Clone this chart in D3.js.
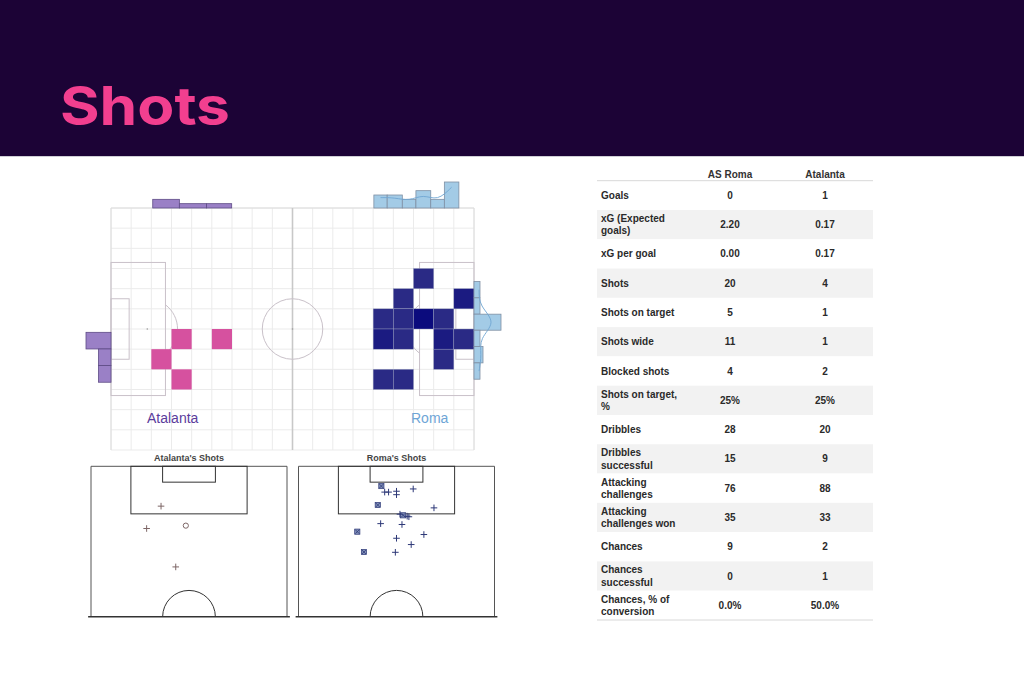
<!DOCTYPE html>
<html>
<head>
<meta charset="utf-8">
<script src="https://cdn.jsdelivr.net/npm/d3@7"></script>
<style>
body { margin: 0; background: #fff; }
svg { display: block; }
</style>
</head>
<body>
<svg id="chart"></svg>
<script>
// ------------------------------------------------ DATA ------------------------------------------------

var teamNames = ["AS Roma", "Atalanta"];

var statLabels = ["Goals", "xG (Expected\ngoals)", "xG per goal", "Shots", "Shots on target", "Shots wide",
    "Blocked shots", "Shots on target,\n%", "Dribbles", "Dribbles\nsuccessful", "Attacking\nchallenges",
    "Attacking\nchallenges won", "Chances", "Chances\nsuccessful", "Chances, % of\nconversion"];
var romaStats = ["0", "2.20", "0.00", "20", "5", "11", "4", "25%", "28", "15", "76", "35", "9", "0", "0.0%"];
var atalantaStats = ["1", "0.17", "0.17", "4", "1", "1", "2", "25%", "20", "9", "88", "33", "2", "1", "50.0%"];

// heatmap cells on the 18 x 12 grid: [column, row, shots]
var atalantaCells = [[3, 6, 1], [5, 6, 1], [2, 7, 1], [3, 8, 1]];
var romaCells = [[15, 3, 1], [14, 4, 1], [17, 4, 2], [13, 5, 1], [14, 5, 1], [15, 5, 3], [16, 5, 1],
    [13, 6, 2], [14, 6, 1], [16, 6, 2], [17, 6, 1], [16, 7, 1], [13, 8, 1], [14, 8, 1]];

// marginal histograms (bin edges in pitch units 120 x 80)
var atalantaTopEdges = [13.8, 22.6, 31.6, 39.9];
var atalantaTopCounts = [2, 1, 1];
var romaTopEdges = [86.9, 91.3, 96.3, 100.8, 105.7, 110.2, 115.0];
var romaTopCounts = [3, 3, 2, 4, 2, 6];
var atalantaSideEdges = [41.1, 46.6, 52.1, 57.6];
var atalantaSideCounts = [2, 1, 1];
var romaSideEdges = [24.3, 29.7, 35.1, 40.4, 45.8, 51.2, 56.6];
var romaSideCounts = [2, 2, 9, 2, 3, 2];

// shot maps: x across the 68 m width, y metres out from the goal line
var atalantaShotX = [24.3, 19.3, 32.9, 29.4];
var atalantaShotY = [13.9, 21.7, 20.7, 35.1];
var atalantaShotType = ["miss", "miss", "goal", "miss"];

var romaShotX = [28.75, 27.5, 20.4, 22.7, 36.3, 29.9, 31.25, 34.0, 34.0, 39.8, 47.0, 37.7, 35.2, 38.3, 28.5,
    35.9, 43.5, 34.0, 39.1, 33.6];
var romaShotY = [6.9, 13.5, 22.8, 29.9, 17.1, 9.0, 9.0, 8.7, 9.9, 7.9, 14.5, 17.4, 16.7, 17.6, 20.0,
    20.3, 23.8, 25.1, 27.3, 30.0];
var romaShotType = ["saved", "saved", "saved", "saved", "saved", "miss", "miss", "miss", "miss", "miss", "miss",
    "miss", "miss", "miss", "miss", "miss", "miss", "miss", "miss", "miss"];

// ------------------------------------------------ SETUP ------------------------------------------------

var width = 1024, height = 683;
var svg = d3.select('#chart')
    .attr("width", width)
    .attr("height", height);

// header band with title
svg.append("rect")
    .attr("width", width)
    .attr("height", 156)
    .attr("fill", "#1c0336");

svg.append("line")
    .attr("x1", 0).attr("x2", width)
    .attr("y1", 156.5).attr("y2", 156.5)
    .attr("stroke", "#cfcfd6");

svg.append("text")
    .attr("x", 60)
    .attr("y", 125)
    .attr("font-family", "Inter, 'Noto Sans', sans-serif")
    .attr("font-weight", 700)
    .attr("font-size", 53)
    .attr("fill", "#f23f8f")
    .attr("textLength", 170)
    .attr("lengthAdjust", "spacingAndGlyphs")
    .text("Shots");

// ------------------------------------------------ FULL PITCH ------------------------------------------------

var px = d3.scaleLinear().domain([0, 120]).range([111, 474]);
var py = d3.scaleLinear().domain([0, 80]).range([208, 450]);
var unit = px(1) - px(0);
var colW = 120 / 18, rowH = 80 / 12;

var pitch = svg.append("g");

// light grid
pitch.selectAll(".vgrid")
    .data(d3.range(19))
    .enter()
    .append("line")
    .attr("x1", function(d) { return px(d * colW); })
    .attr("x2", function(d) { return px(d * colW); })
    .attr("y1", py(0)).attr("y2", py(80))
    .attr("stroke", "#ebebeb");

pitch.selectAll(".hgrid")
    .data(d3.range(13))
    .enter()
    .append("line")
    .attr("x1", px(0)).attr("x2", px(120))
    .attr("y1", function(d) { return py(d * rowH); })
    .attr("y2", function(d) { return py(d * rowH); })
    .attr("stroke", "#ebebeb");

// pitch markings
var lineCol = "#c9c1c9";
function box(g, x0, y0, x1, y1) {
    g.append("rect")
        .attr("x", px(x0)).attr("y", py(y0))
        .attr("width", px(x1) - px(x0)).attr("height", py(y1) - py(y0))
        .attr("fill", "none")
        .attr("stroke", lineCol);
}
function arcPath(cx, cy, r, a0, a1) {
    var p = d3.path();
    p.arc(cx, cy, r, a0, a1);
    return p.toString();
}

pitch.append("line")
    .attr("x1", px(0)).attr("x2", px(0)).attr("y1", py(0)).attr("y2", py(80))
    .attr("stroke", "#dcdcdc");
pitch.append("line")
    .attr("x1", px(120)).attr("x2", px(120)).attr("y1", py(0)).attr("y2", py(80))
    .attr("stroke", "#dcdcdc");
pitch.append("line")
    .attr("x1", px(0)).attr("x2", px(120)).attr("y1", py(0)).attr("y2", py(0))
    .attr("stroke", "#dcdcdc");
pitch.append("line")
    .attr("x1", px(60)).attr("x2", px(60)).attr("y1", py(0)).attr("y2", py(80))
    .attr("stroke", "#c8c8c8")
    .attr("stroke-width", 1.6);

box(pitch, 0, 18, 18, 62);
box(pitch, 0, 30, 6, 50);
box(pitch, 102, 18, 120, 62);
box(pitch, 114, 30, 120, 50);

pitch.append("circle")
    .attr("cx", px(60)).attr("cy", py(40)).attr("r", 10 * unit)
    .attr("fill", "none").attr("stroke", lineCol);

var dAngle = Math.acos(6 / 10);
pitch.append("path")
    .attr("d", arcPath(px(12), py(40), 10 * unit, -dAngle, dAngle))
    .attr("fill", "none").attr("stroke", lineCol);
pitch.append("path")
    .attr("d", arcPath(px(108), py(40), 10 * unit, Math.PI - dAngle, Math.PI + dAngle))
    .attr("fill", "none").attr("stroke", lineCol);

pitch.selectAll(".spot")
    .data([12, 60, 108])
    .enter()
    .append("circle")
    .attr("cx", function(d) { return px(d); })
    .attr("cy", py(40))
    .attr("r", 0.8)
    .attr("fill", "#999");

// heatmaps
var pinkColor = d3.scaleLinear().domain([1, 2]).range(["#d6519f", "#c2307f"]);
var navyColor = d3.scaleLinear().domain([1, 3]).range(["#2a2a85", "#0b0b7d"]);

pitch.selectAll(".atalantaCell")
    .data(atalantaCells)
    .enter()
    .append("rect")
    .attr("x", function(d) { return px(d[0] * colW); })
    .attr("y", function(d) { return py(d[1] * rowH); })
    .attr("width", colW * unit)
    .attr("height", rowH * unit)
    .attr("fill", function(d) { return pinkColor(d[2]); });

pitch.selectAll(".romaCell")
    .data(romaCells)
    .enter()
    .append("rect")
    .attr("x", function(d) { return px(d[0] * colW); })
    .attr("y", function(d) { return py(d[1] * rowH); })
    .attr("width", colW * unit)
    .attr("height", rowH * unit)
    .attr("fill", function(d) { return navyColor(d[2]); })
    .attr("stroke", "#9aa0bf")
    .attr("stroke-width", 0.4);

// marginal histograms
var topLen = d3.scaleLinear().domain([0, 6]).range([0, 26]);
var atalantaSideLen = d3.scaleLinear().domain([0, 2]).range([0, 25]);
var romaSideLen = d3.scaleLinear().domain([0, 9]).range([0, 27]);

var purpleFill = "#9a80c6", purpleLine = "#5e4b86";
var blueFill = "#a3cbe6", blueLine = "#7f8fa3";

function topHist(edges, counts, fill, stroke) {
    pitch.selectAll(null)
        .data(counts)
        .enter()
        .append("rect")
        .attr("x", function(d, i) { return px(edges[i]); })
        .attr("y", function(d) { return py(0) - topLen(d); })
        .attr("width", function(d, i) { return px(edges[i + 1]) - px(edges[i]); })
        .attr("height", function(d) { return topLen(d); })
        .attr("fill", fill)
        .attr("stroke", stroke)
        .attr("stroke-width", 0.8);
}
topHist(atalantaTopEdges, atalantaTopCounts, purpleFill, purpleLine);
topHist(romaTopEdges, romaTopCounts, blueFill, blueLine);

pitch.selectAll(".atalantaSide")
    .data(atalantaSideCounts)
    .enter()
    .append("rect")
    .attr("x", function(d) { return px(0) - atalantaSideLen(d); })
    .attr("y", function(d, i) { return py(atalantaSideEdges[i]); })
    .attr("width", function(d) { return atalantaSideLen(d); })
    .attr("height", function(d, i) { return py(atalantaSideEdges[i + 1]) - py(atalantaSideEdges[i]); })
    .attr("fill", purpleFill)
    .attr("stroke", purpleLine)
    .attr("stroke-width", 0.8);

pitch.selectAll(".romaSide")
    .data(romaSideCounts)
    .enter()
    .append("rect")
    .attr("x", px(120))
    .attr("y", function(d, i) { return py(romaSideEdges[i]); })
    .attr("width", function(d) { return romaSideLen(d); })
    .attr("height", function(d, i) { return py(romaSideEdges[i + 1]) - py(romaSideEdges[i]); })
    .attr("fill", blueFill)
    .attr("stroke", blueLine)
    .attr("stroke-width", 0.8);

// smooth density lines over Roma's bars
var topCurve = d3.line()
    .x(function(d, i) { return px((romaTopEdges[i] + romaTopEdges[i + 1]) / 2); })
    .y(function(d) { return py(0) - topLen(d) * 0.8; })
    .curve(d3.curveBasis);
pitch.append("path")
    .datum(romaTopCounts)
    .attr("d", topCurve)
    .attr("fill", "none")
    .attr("stroke", "#6fa6d3")
    .attr("stroke-width", 0.9);

var sideCurve = d3.line()
    .x(function(d) { return px(120) + romaSideLen(d) * 0.85; })
    .y(function(d, i) { return py((romaSideEdges[i] + romaSideEdges[i + 1]) / 2); })
    .curve(d3.curveBasis);
pitch.append("path")
    .datum(romaSideCounts)
    .attr("d", sideCurve)
    .attr("fill", "none")
    .attr("stroke", "#6fa6d3")
    .attr("stroke-width", 0.9);

// team labels
pitch.append("text")
    .attr("x", 147).attr("y", 423)
    .attr("font-family", "'Liberation Sans', Arial, sans-serif")
    .attr("font-size", 14)
    .attr("fill", "#5b3c9c")
    .text("Atalanta");

pitch.append("text")
    .attr("x", 411).attr("y", 423)
    .attr("font-family", "'Liberation Sans', Arial, sans-serif")
    .attr("font-size", 14)
    .attr("fill", "#6ea5d6")
    .text("Roma");

// ------------------------------------------------ SHOT MAPS ------------------------------------------------

function shotMap(x0, title, xs, ys, types, markColor, saveFill) {
    var sx = d3.scaleLinear().domain([0, 68]).range([x0, x0 + 196]);
    var sy = d3.scaleLinear().domain([0, 52.5]).range([466.3, 616.8]);
    var k = sx(1) - sx(0);
    var g = svg.append("g");

    g.append("text")
        .attr("x", sx(34)).attr("y", 461)
        .attr("text-anchor", "middle")
        .attr("font-family", "'Liberation Sans', Arial, sans-serif")
        .attr("font-weight", 700)
        .attr("font-size", 9)
        .attr("fill", "#444")
        .text(title);

    // frame
    g.append("path")
        .attr("d", "M" + sx(0) + "," + sy(52.5) + "V" + sy(0) + "H" + sx(68) + "V" + sy(52.5))
        .attr("fill", "none").attr("stroke", "#555").attr("stroke-width", 1);
    g.append("line")
        .attr("x1", sx(-1)).attr("x2", sx(69)).attr("y1", sy(52.5)).attr("y2", sy(52.5))
        .attr("stroke", "#333").attr("stroke-width", 1.4);

    // penalty area and six yard box
    g.append("rect")
        .attr("x", sx(13.84)).attr("y", sy(0))
        .attr("width", 40.32 * k).attr("height", 16.5 * k)
        .attr("fill", "none").attr("stroke", "#333");
    g.append("rect")
        .attr("x", sx(24.84)).attr("y", sy(0))
        .attr("width", 18.32 * k).attr("height", 5.5 * k)
        .attr("fill", "none").attr("stroke", "#333");

    // centre circle
    g.append("path")
        .attr("d", arcPath(sx(34), sy(52.5), 9.15 * k, Math.PI, 2 * Math.PI))
        .attr("fill", "none").attr("stroke", "#333");

    // markers
    var marks = g.selectAll(".shot")
        .data(d3.range(xs.length))
        .enter()
        .append("g")
        .attr("transform", function(i) { return "translate(" + sx(xs[i]) + "," + sy(ys[i]) + ")"; });

    marks.filter(function(i) { return types[i] === "miss"; })
        .append("path")
        .attr("d", "M-3.3,0H3.3M0,-3.3V3.3")
        .attr("stroke", markColor)
        .attr("stroke-width", 1);

    marks.filter(function(i) { return types[i] === "goal"; })
        .append("circle")
        .attr("r", 2.6)
        .attr("fill", "none")
        .attr("stroke", markColor)
        .attr("stroke-width", 1);

    var saved = marks.filter(function(i) { return types[i] === "saved"; });
    saved.append("rect")
        .attr("x", -2.6).attr("y", -2.6)
        .attr("width", 5.2).attr("height", 5.2)
        .attr("fill", saveFill)
        .attr("stroke", markColor)
        .attr("stroke-width", 0.7);
    saved.append("path")
        .attr("d", "M-2,-2L2,2M2,-2L-2,2")
        .attr("stroke", markColor)
        .attr("stroke-width", 0.8);
}

shotMap(91, "Atalanta's Shots", atalantaShotX, atalantaShotY, atalantaShotType, "#7d6666", "#b7a8a8");
shotMap(298.5, "Roma's Shots", romaShotX, romaShotY, romaShotType, "#2d3877", "#8190b8");

// ------------------------------------------------ TABLE ------------------------------------------------

var rowY = d3.scaleBand()
    .domain(d3.range(statLabels.length))
    .range([180.7, 620]);
var colX = d3.scaleOrdinal().domain(teamNames).range([730, 825]);
var tableLeft = 597, tableRight = 873;
var tableFont = "'Liberation Sans', Arial, sans-serif";

var table = svg.append("g");

table.selectAll(".head")
    .data(teamNames)
    .enter()
    .append("text")
    .attr("x", function(d) { return colX(d); })
    .attr("y", 174)
    .attr("dy", "0.35em")
    .attr("text-anchor", "middle")
    .attr("font-family", tableFont)
    .attr("font-weight", 700)
    .attr("font-size", 10)
    .attr("fill", "#333")
    .text(function(d) { return d; });

var rows = table.selectAll(".row")
    .data(statLabels)
    .enter()
    .append("g")
    .attr("transform", function(d, i) { return "translate(0," + rowY(i) + ")"; });

rows.append("rect")
    .attr("x", tableLeft)
    .attr("width", tableRight - tableLeft)
    .attr("height", rowY.bandwidth())
    .attr("fill", function(d, i) { return i % 2 ? "#f2f2f2" : "#fff"; });

rows.each(function(d) {
    var lines = d.split("\n");
    var t = d3.select(this).append("text")
        .attr("x", 601)
        .attr("font-family", tableFont)
        .attr("font-weight", 700)
        .attr("font-size", 10)
        .attr("fill", "#2a2a2a");
    lines.forEach(function(line, j) {
        t.append("tspan")
            .attr("x", 601)
            .attr("y", rowY.bandwidth() / 2 + (j - (lines.length - 1) / 2) * 12.4)
            .attr("dy", "0.35em")
            .text(line);
    });
});

rows.append("text")
    .attr("x", colX(teamNames[0]))
    .attr("y", rowY.bandwidth() / 2)
    .attr("dy", "0.35em")
    .attr("text-anchor", "middle")
    .attr("font-family", tableFont)
    .attr("font-weight", 700)
    .attr("font-size", 10)
    .attr("fill", "#2a2a2a")
    .text(function(d, i) { return romaStats[i]; });

rows.append("text")
    .attr("x", colX(teamNames[1]))
    .attr("y", rowY.bandwidth() / 2)
    .attr("dy", "0.35em")
    .attr("text-anchor", "middle")
    .attr("font-family", tableFont)
    .attr("font-weight", 700)
    .attr("font-size", 10)
    .attr("fill", "#2a2a2a")
    .text(function(d, i) { return atalantaStats[i]; });

table.append("line")
    .attr("x1", tableLeft).attr("x2", tableRight)
    .attr("y1", 180.7).attr("y2", 180.7)
    .attr("stroke", "#d8d8d8");
table.append("line")
    .attr("x1", tableLeft).attr("x2", tableRight)
    .attr("y1", 620).attr("y2", 620)
    .attr("stroke", "#d8d8d8");
</script>
</body>
</html>
